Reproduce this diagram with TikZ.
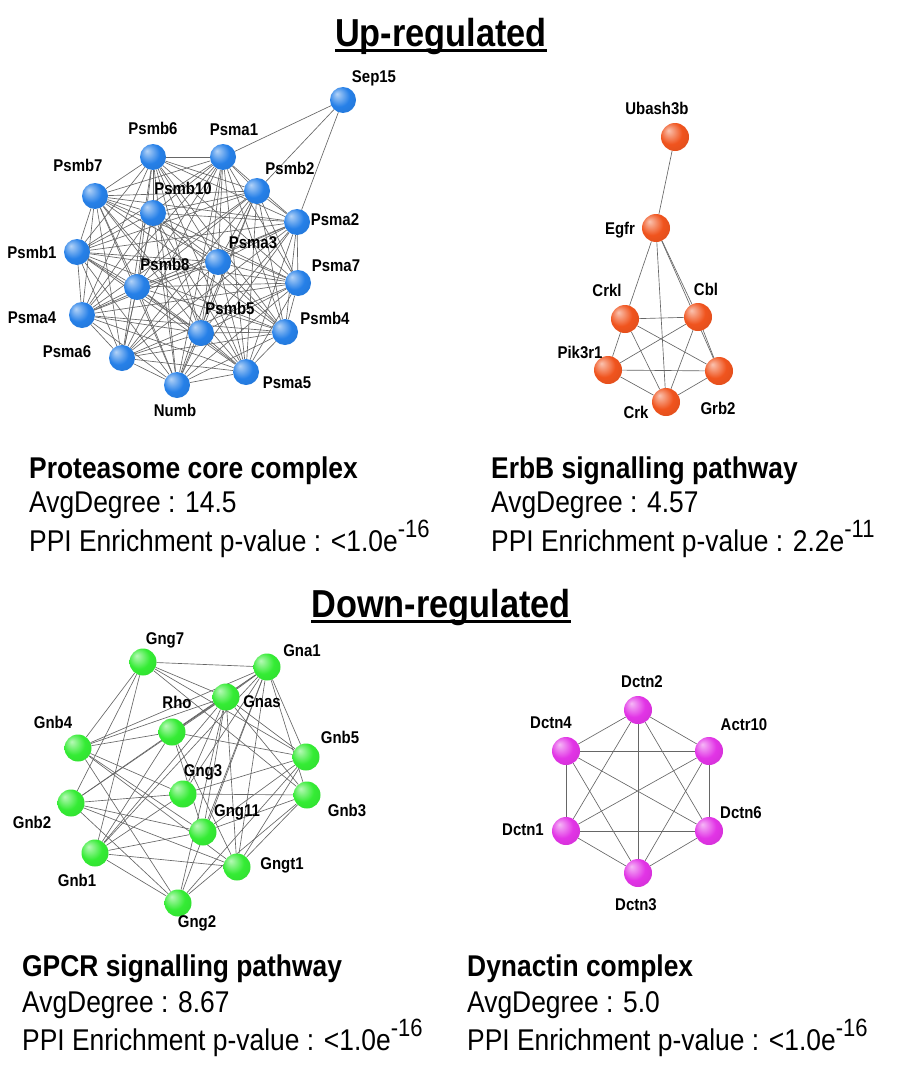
\documentclass[tikz,border=0pt]{standalone}
\usepackage{fontspec}
\setmainfont{Liberation Sans}[FakeStretch=0.88]
\usetikzlibrary{backgrounds}

\definecolor{protblue}{RGB}{38,128,232}
\definecolor{erbbred}{RGB}{240,84,30}
\definecolor{gpcrgreen}{RGB}{52,236,52}
\definecolor{dynmag}{RGB}{226,52,230}

% sphere look: light spot up left, darker rim
\pgfdeclareradialshading{protsph}{\pgfpoint{-12bp}{12bp}}{color(0bp)=(protblue!35!white); color(20bp)=(protblue); color(44bp)=(protblue!88!black); color(50bp)=(protblue!75!black)}
\pgfdeclareradialshading{erbbsph}{\pgfpoint{-12bp}{12bp}}{color(0bp)=(erbbred!35!white); color(20bp)=(erbbred); color(44bp)=(erbbred!88!black); color(50bp)=(erbbred!75!black)}
\pgfdeclareradialshading{gpcrsph}{\pgfpoint{-12bp}{12bp}}{color(0bp)=(gpcrgreen!35!white); color(20bp)=(gpcrgreen); color(44bp)=(gpcrgreen!90!black); color(50bp)=(gpcrgreen!78!black)}
\pgfdeclareradialshading{dynsph}{\pgfpoint{-12bp}{12bp}}{color(0bp)=(dynmag!35!white); color(20bp)=(dynmag); color(44bp)=(dynmag!88!black); color(50bp)=(dynmag!75!black)}

\newcommand{\expo}[1]{\raisebox{0.45em}{\fontsize{25}{25}\selectfont#1}}

\tikzset{
  % network nodes
  ball/.style={circle, inner sep=0pt, minimum size=26pt, shade},
  pball/.style={ball, shading=protsph},
  eball/.style={ball, minimum size=28pt, shading=erbbsph},
  gball/.style={ball, minimum size=27pt, shading=gpcrsph},
  dball/.style={ball, minimum size=28pt, shading=dynsph},
  glbl/.style={font=\fontsize{17}{18}\selectfont\bfseries, inner sep=0pt},
  link/.style={draw=black!60, line width=0.65pt},
  % texts
  heading/.style={font=\fontsize{39}{40}\selectfont\bfseries, inner sep=0pt, anchor=base},
  ttl/.style={font=\fontsize{30}{32}\selectfont\bfseries, inner sep=0pt, anchor=base west},
  stat/.style={font=\fontsize{30}{32}\selectfont, inner sep=0pt, anchor=base west},
  uline/.style={line width=3pt}
}

\begin{document}
\begin{tikzpicture}[x=1pt, y=-1pt]
\useasboundingbox (0,0) rectangle (901,1073);

% ============== HEADINGS ==============
\node[heading] (up) at (441,47) {Up-regulated};
\draw[uline] ([yshift=-4pt]up.base west) -- ([yshift=-4pt]up.base east);
\node[heading] (down) at (441,617) {Down-regulated};
\draw[uline] ([yshift=-4pt]down.base west) -- ([yshift=-4pt]down.base east);

% ============== PROTEASOME ==============
\node[pball] (sep15) at (343,100) {};   \node[glbl] (sep15-t) at (374,78) {Sep15};
\node[pball] (psmb6) at (153,157) {};   \node[glbl] (psmb6-t) at (153,128) {Psmb6};
\node[pball] (psma1) at (223,157) {};   \node[glbl] (psma1-t) at (234,130) {Psma1};
\node[pball] (psmb7) at (95,196) {};    \node[glbl] (psmb7-t) at (78,165) {Psmb7};
\node[pball] (psmb2) at (257,191) {};   \node[glbl] (psmb2-t) at (290,168) {Psmb2};
\node[pball] (psmb10) at (153,213) {};  \node[glbl] (psmb10-t) at (183,188) {Psmb10};
\node[pball] (psma2) at (297,222) {};   \node[glbl] (psma2-t) at (335,220) {Psma2};
\node[pball] (psmb1) at (77,252) {};    \node[glbl] (psmb1-t) at (32,252) {Psmb1};
\node[pball] (psma3) at (218,262) {};   \node[glbl] (psma3-t) at (253,243) {Psma3};
\node[pball] (psmb8) at (137,287) {};   \node[glbl] (psmb8-t) at (165,264) {Psmb8};
\node[pball] (psma7) at (298,283) {};   \node[glbl] (psma7-t) at (336,266) {Psma7};
\node[pball] (psma4) at (82,315) {};    \node[glbl] (psma4-t) at (32,318) {Psma4};
\node[pball] (psmb5) at (201,333) {};   \node[glbl] (psmb5-t) at (230,308) {Psmb5};
\node[pball] (psmb4) at (285,332) {};   \node[glbl] (psmb4-t) at (325,318) {Psmb4};
\node[pball] (psma6) at (122,358) {};   \node[glbl] (psma6-t) at (67,352) {Psma6};
\node[pball] (psma5) at (246,372) {};   \node[glbl] (psma5-t) at (287,383) {Psma5};
\node[pball] (numb) at (177,385) {};    \node[glbl] (numb-t) at (175,410) {Numb};

\begin{scope}[on background layer]
  \foreach \a [count=\i] in {psmb6,psma1,psmb7,psmb2,psmb10,psma2,psmb1,psma3,psmb8,psma7,psma4,psmb5,psmb4,psma6,psma5,numb}
    \foreach \b [count=\j] in {psmb6,psma1,psmb7,psmb2,psmb10,psma2,psmb1,psma3,psmb8,psma7,psma4,psmb5,psmb4,psma6,psma5,numb}
      {\ifnum\j>\i \draw[link] (\a) -- (\b); \fi}
  \foreach \b in {psma1,psmb2,psma2}
    \draw[link] (sep15) -- (\b);
\end{scope}

% ============== ERBB ==============
\node[eball] (ubash3b) at (675,137) {}; \node[glbl] (ubash3b-t) at (657,108) {Ubash3b};
\node[eball] (egfr) at (656,228) {};    \node[glbl] (egfr-t) at (620,230) {Egfr};
\node[eball] (crkl) at (625,319) {};    \node[glbl] (crkl-t) at (607,290) {Crkl};
\node[eball] (cbl) at (698,317) {};     \node[glbl] (cbl-t) at (706,289) {Cbl};
\node[eball] (pik3r1) at (608,370) {};  \node[glbl] (pik3r1-t) at (580,352) {Pik3r1};
\node[eball] (grb2) at (719,371) {};    \node[glbl] (grb2-t) at (718,408) {Grb2};
\node[eball] (crk) at (666,402) {};     \node[glbl] (crk-t) at (636,412) {Crk};

\begin{scope}[on background layer]
  \draw[link] (ubash3b) -- (egfr);
  \foreach \b in {crkl,cbl,crk,grb2}
    \draw[link] (egfr) -- (\b);
  \foreach \b in {cbl,pik3r1,crk,grb2}
    \draw[link] (crkl) -- (\b);
  \foreach \b in {pik3r1,crk,grb2}
    \draw[link] (cbl) -- (\b);
  \draw[link] (pik3r1) -- (grb2);
  \draw[link] (pik3r1) -- (crk);
  \draw[link] (crk) -- (grb2);
\end{scope}

% ============== GPCR ==============
\node[gball] (gng7) at (143,662) {};    \node[glbl] (gng7-t) at (165,640) {Gng7};
\node[gball] (gna1) at (267,667) {};    \node[glbl] (gna1-t) at (302,651) {Gna1};
\node[gball] (gnas) at (226,697) {};    \node[glbl] (gnas-t) at (262,702) {Gnas};
\node[gball] (rho) at (172,732) {};     \node[glbl] (rho-t) at (177,702) {Rho};
\node[gball] (gnb4) at (78,748) {};     \node[glbl] (gnb4-t) at (53,722) {Gnb4};
\node[gball] (gnb5) at (306,757) {};    \node[glbl] (gnb5-t) at (340,737) {Gnb5};
\node[gball] (gng3) at (183,794) {};    \node[glbl] (gng3-t) at (203,772) {Gng3};
\node[gball] (gnb3) at (307,795) {};    \node[glbl] (gnb3-t) at (347,810) {Gnb3};
\node[gball] (gnb2) at (71,803) {};     \node[glbl] (gnb2-t) at (32,822) {Gnb2};
\node[gball] (gng11) at (203,832) {};   \node[glbl] (gng11-t) at (237,812) {Gng11};
\node[gball] (gnb1) at (95,853) {};     \node[glbl] (gnb1-t) at (77,880) {Gnb1};
\node[gball] (gngt1) at (237,867) {};   \node[glbl] (gngt1-t) at (282,865) {Gngt1};
\node[gball] (gng2) at (178,903) {};    \node[glbl] (gng2-t) at (197,923) {Gng2};

\begin{scope}[on background layer]
  \foreach \b in {gnb1,gnb2,gnb3,gnb4,gnb5}
    \foreach \g in {gng2,gng3,gng7,gng11,gngt1,gna1,gnas}
      \draw[link] (\b) -- (\g);
  \foreach \a in {gna1,gnas}
    \foreach \g in {gng2,gng3,gng7,gng11,gngt1}
      \draw[link] (\a) -- (\g);
  \draw[link] (gna1) -- (gnas);
  \foreach \b in {gna1,gnas,gngt1,gnb1,gnb4,gnb5,gng11}
    \draw[link] (rho) -- (\b);
\end{scope}

% ============== DYNACTIN ==============
\node[dball] (dctn2) at (638,710) {};   \node[glbl] (dctn2-t) at (642,682) {Dctn2};
\node[dball] (dctn4) at (566,751) {};   \node[glbl] (dctn4-t) at (551,723) {Dctn4};
\node[dball] (actr10) at (709,751) {};  \node[glbl] (actr10-t) at (744,725) {Actr10};
\node[dball] (dctn1) at (566,831) {};   \node[glbl] (dctn1-t) at (523,830) {Dctn1};
\node[dball] (dctn6) at (709,831) {};   \node[glbl] (dctn6-t) at (741,813) {Dctn6};
\node[dball] (dctn3) at (638,873) {};   \node[glbl] (dctn3-t) at (636,905) {Dctn3};

\begin{scope}[on background layer]
  \foreach \a [count=\i] in {dctn2,dctn4,actr10,dctn1,dctn6,dctn3}
    \foreach \b [count=\j] in {dctn2,dctn4,actr10,dctn1,dctn6,dctn3}
      {\ifnum\j>\i \draw[link] (\a) -- (\b); \fi}
\end{scope}

% ============== STATS ==============
\node[ttl] (prot-name) at (29,478) {Proteasome core complex};
\node[stat] (prot-deg) at (29,512) {AvgDegree : 14.5};
\node[stat] (prot-ppi) at (29,551) {PPI Enrichment p-value : <1.0e\expo{-16}};

\node[ttl] (erbb-name) at (491,478) {ErbB signalling pathway};
\node[stat] (erbb-deg) at (491,512) {AvgDegree : 4.57};
\node[stat] (erbb-ppi) at (491,551) {PPI Enrichment p-value : 2.2e\expo{-11}};

\node[ttl] (gpcr-name) at (22,976) {GPCR signalling pathway};
\node[stat] (gpcr-deg) at (22,1012) {AvgDegree : 8.67};
\node[stat] (gpcr-ppi) at (22,1050) {PPI Enrichment p-value : <1.0e\expo{-16}};

\node[ttl] (dyn-name) at (467,976) {Dynactin complex};
\node[stat] (dyn-deg) at (467,1012) {AvgDegree : 5.0};
\node[stat] (dyn-ppi) at (467,1050) {PPI Enrichment p-value : <1.0e\expo{-16}};

\end{tikzpicture}
\end{document}
